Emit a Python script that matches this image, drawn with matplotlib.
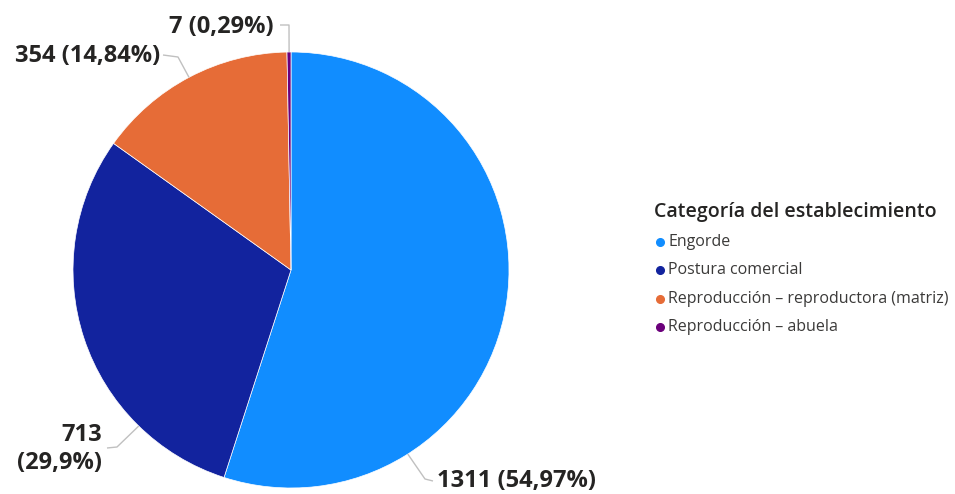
import numpy as np
import matplotlib
matplotlib.use("Agg")
import matplotlib.pyplot as plt

plt.rcParams["font.family"] = ["Open Sans", "DejaVu Sans"]

categories = [
    "Engorde",
    "Postura comercial",
    "Reproducción – reproductora (matriz)",
    "Reproducción – abuela",
]
counts = [1311, 713, 354, 7]
colors = ["#118DFF", "#12239E", "#E66C37", "#6B007B"]
legend_title = "Categoría del establecimiento"

W, H = 955, 494
fig = plt.figure(figsize=(W / 100, H / 100), dpi=100)
ax = fig.add_axes([0, 0, 1, 1])

# pie in pixel units (y measured from the bottom)
cx, cy, r = 291, H - 270, 218
ax.pie(counts, colors=colors, startangle=90, counterclock=False,
       center=(cx, cy), radius=r,
       wedgeprops=dict(edgecolor="white", linewidth=0.5))
ax.set_xlim(0, W)
ax.set_ylim(0, H)
ax.set_aspect("auto")
ax.axis("off")


def pct_text(v, total):
    p = f"{v / total * 100:.2f}".rstrip("0").rstrip(".")
    return p.replace(".", ",")


total = sum(counts)
labels = [f"{v} ({pct_text(v, total)}%)" for v in counts]
labels[1] = labels[1].replace(" (", "\n(")

# leader layout: angle on the rim, elbow point, end point, text anchor
leaders = [
    (-57.6, (425, 479), (433, 481), (437, 481), "left"),
    (225.7, (117, 447), (107, 448), (102, 449), "right"),
    (117.9, (178, 57), (163, 55), (160, 56), "right"),
    (90.5, (289, 25), (280, 25), (274, 27), "right"),
]
for lab, (ang, elbow, end, txt, ha) in zip(labels, leaders):
    a = np.deg2rad(ang)
    sx, sy = cx + r * np.cos(a), cy + r * np.sin(a)
    xs = [sx, elbow[0], end[0]]
    ys = [sy, H - elbow[1], H - end[1]]
    ax.plot(xs, ys, color="#c0c0c0", lw=1, solid_capstyle="butt")
    ax.text(txt[0], H - txt[1], lab, ha=ha, va="center", ma=ha,
            fontsize=17, fontweight="bold", color="#252423",
            linespacing=1.25)

# legend
ax.text(654, H - 212, legend_title, ha="left", va="center",
        fontsize=14, fontweight="semibold", color="#252423")
for i, (name, c) in enumerate(zip(categories, colors)):
    y = H - (242 + i * 28.3)
    ax.plot([660], [y], "o", color=c, ms=5.5)
    ax.text(668, y, name, ha="left", va="center", fontsize=11.5,
            color="#3b3a39")

fig.savefig("out.png", dpi=100)
